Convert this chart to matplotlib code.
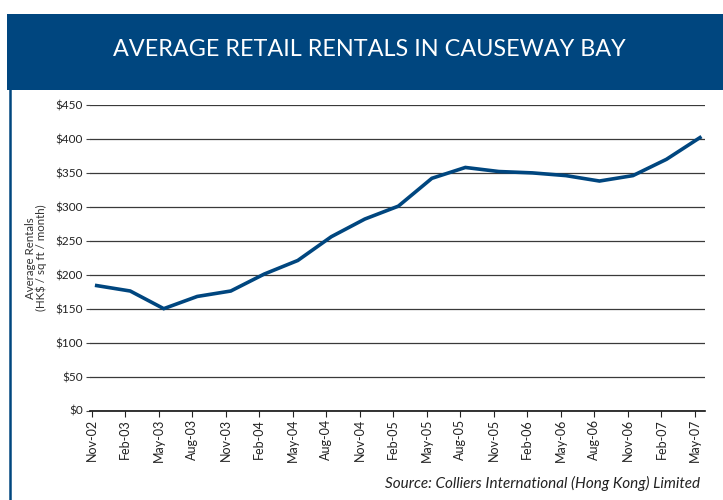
import numpy as np
import matplotlib
matplotlib.use("Agg")
import matplotlib.pyplot as plt
from matplotlib.patches import Rectangle
from matplotlib.lines import Line2D

plt.rcParams['font.family'] = ['Lato', 'DejaVu Sans']

# quarterly average retail rents, Causeway Bay (HK$ / sq ft / month)
quarters = ['Nov-02', 'Feb-03', 'May-03', 'Aug-03', 'Nov-03', 'Feb-04', 'May-04',
            'Aug-04', 'Nov-04', 'Feb-05', 'May-05', 'Aug-05', 'Nov-05', 'Feb-06',
            'May-06', 'Aug-06', 'Nov-06', 'Feb-07', 'May-07']
rents = [184, 176, 150, 168, 176, 201, 221, 256, 282, 301, 342, 358, 352, 350,
         346, 338, 346, 370, 402]
yticks = [0, 50, 100, 150, 200, 250, 300, 350, 400, 450]

navy = '#00467f'
W, H = 723, 500

fig = plt.figure(figsize=(W / 100, H / 100), dpi=100)

# header band and panel border
fig.patches.append(Rectangle((7 / W, 1 - 90 / H), 1, 76 / H, transform=fig.transFigure,
                             facecolor=navy, edgecolor='none', zorder=0))
fig.lines.append(Line2D([9.5 / W, 9.5 / W], [0, 1 - 90 / H], transform=fig.transFigure,
                        color=navy, lw=1.8))
fig.text(369 / W, 1 - 50 / H, 'AVERAGE RETAIL RENTALS IN CAUSEWAY BAY', color='white',
         fontsize=16.8, ha='center', va='center')

ax = fig.add_axes([90 / W, (H - 410.5) / H, 615 / W, 305.5 / H])
x = np.arange(len(quarters))
ax.plot(x + 0.15, rents, color=navy, lw=2.6, solid_joinstyle='miter', zorder=3)

ax.set_xlim(-0.05, 18.3)
ax.set_ylim(0, 450)
ax.set_yticks(yticks)
ax.set_yticklabels(['$%d' % v for v in yticks], fontsize=8.5, color='#222222')
ax.set_xticks(x)
ax.set_xticklabels(quarters, rotation=90, fontsize=9, color='#222222')
ax.tick_params(axis='y', length=3, width=0.8, color='#444444', pad=2)
ax.tick_params(axis='x', length=4, width=0.8, color='#222222', pad=2)

ax.grid(axis='y', color='#3a3a3a', lw=0.9)
ax.set_axisbelow(True)
for s in ['top', 'right', 'left']:
    ax.spines[s].set_visible(False)
ax.spines['bottom'].set_color('#111111')
ax.spines['bottom'].set_linewidth(1.2)

ax.set_ylabel('Average Rentals\n(HK$ / sq ft / month)', fontsize=8.3, color='#333333',
              linespacing=0.95, labelpad=6)

fig.text(700 / W, 1 - 483 / H, 'Source: Colliers International (Hong Kong) Limited',
         fontsize=11, style='italic', color='#222222', ha='right', va='center')

fig.savefig('out.png', dpi=100)
